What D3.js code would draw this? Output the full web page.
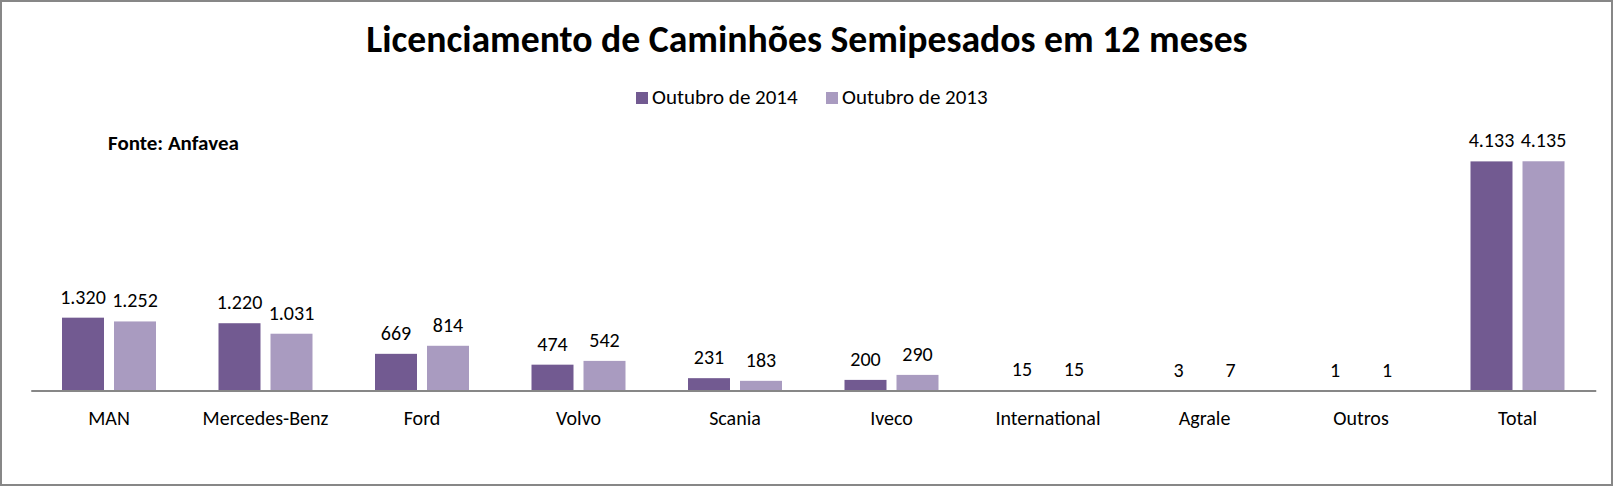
<!DOCTYPE html>
<html>
<head>
<meta charset="utf-8">
<script src="https://cdn.jsdelivr.net/npm/d3@7"></script>
<style>
    body { margin: 0; background: #fff; }
    svg { display: block; font-family: Carlito, Calibri, Lato, sans-serif; }
    .valueText { font-size: 20px; fill: #000; text-anchor: middle; }
    .catText { font-size: 20px; fill: #000; text-anchor: middle; }
</style>
</head>
<body>
<div id="chart"></div>
<script>
// categories and series values
var categories = ["MAN", "Mercedes-Benz", "Ford", "Volvo", "Scania", "Iveco", "International", "Agrale", "Outros", "Total"];
var seriesNames = ["Outubro de 2014", "Outubro de 2013"];
var values2014 = [1320, 1220, 669, 474, 231, 200, 15, 3, 1, 4133];
var values2013 = [1252, 1031, 814, 542, 183, 290, 15, 7, 1, 4135];
var seriesColors = ["#725a91", "#a99bc0"];

var width = 1614, height = 487;

var svg = d3.select("#chart").append("svg")
    .attr("width", width)
    .attr("height", height);

// outer frame
svg.append("rect")
    .attr("x", 1).attr("y", 1)
    .attr("width", width - 3).attr("height", height - 3)
    .attr("fill", "#fff")
    .attr("stroke", "#878787")
    .attr("stroke-width", 2);

// scales
var x0 = d3.scaleBand()
    .domain(categories)
    .range([30.75, 1595.75])
    .padding(0);

var groupPad = (x0.bandwidth() - 94) / 2;
var x1 = d3.scaleBand()
    .domain(seriesNames)
    .range([groupPad, groupPad + 94])
    .paddingInner(10 / 52);

var y = d3.scaleLinear()
    .domain([0, 4500])
    .range([391, 141]);

var data = categories.map(function (c, i) {
    return { cat: c, vals: [values2014[i], values2013[i]] };
});

// bars
var groups = svg.selectAll("g.group")
    .data(data)
    .enter()
    .append("g")
    .attr("class", "group")
    .attr("transform", function (d) { return "translate(" + x0(d.cat) + ",0)"; });

groups.selectAll("rect")
    .data(function (d) { return d.vals.map(function (v, j) { return { s: seriesNames[j], v: v, j: j }; }); })
    .enter()
    .append("rect")
    .attr("x", function (d) { return x1(d.s); })
    .attr("y", function (d) { return y(d.v); })
    .attr("width", x1.bandwidth())
    .attr("height", function (d) { return y(0) - y(d.v); })
    .attr("fill", function (d) { return seriesColors[d.j]; });

// value labels (Brazilian thousands separator)
var fmt = d3.formatLocale({ decimal: ",", thousands: ".", grouping: [3], currency: ["R$", ""] }).format(",d");

groups.selectAll("text.valueText")
    .data(function (d) { return d.vals.map(function (v, j) { return { s: seriesNames[j], v: v }; }); })
    .enter()
    .append("text")
    .attr("class", "valueText")
    .attr("x", function (d) { return x1(d.s) + x1.bandwidth() / 2; })
    .attr("y", function (d) { return y(d.v) - 14; })
    .text(function (d) { return fmt(d.v); });

// category axis (path sits at +0.5, shift so the line is centred on zero)
var xAxis = svg.append("g")
    .attr("transform", "translate(0," + (y(0) - 0.5) + ")")
    .call(d3.axisBottom(x0).tickSize(0).tickPadding(0));
xAxis.attr("font-family", null).attr("font-size", null);
xAxis.select(".domain").attr("stroke", "#878787").attr("stroke-width", 2);
xAxis.selectAll("text")
    .attr("class", "catText")
    .attr("fill", "#000")
    .attr("dy", null)
    .attr("y", 34.5);

// title
svg.append("text")
    .attr("x", 807)
    .attr("y", 52)
    .attr("text-anchor", "middle")
    .attr("font-size", "37.7px")
    .attr("font-weight", "bold")
    .text("Licenciamento de Caminhões Semipesados em 12 meses");

// legend
var legendX = [636, 826];
var legend = svg.selectAll("g.legend")
    .data(seriesNames)
    .enter()
    .append("g")
    .attr("class", "legend")
    .attr("transform", function (d, i) { return "translate(" + legendX[i] + ",92)"; });

legend.append("rect")
    .attr("width", 12)
    .attr("height", 12)
    .attr("fill", function (d, i) { return seriesColors[i]; });

legend.append("text")
    .attr("x", 16)
    .attr("y", 12)
    .attr("font-size", "21px")
    .text(function (d) { return d; });

// source
svg.append("text")
    .attr("x", 108)
    .attr("y", 150)
    .attr("font-size", "21px")
    .attr("font-weight", "bold")
    .text("Fonte: Anfavea");
</script>
</body>
</html>
